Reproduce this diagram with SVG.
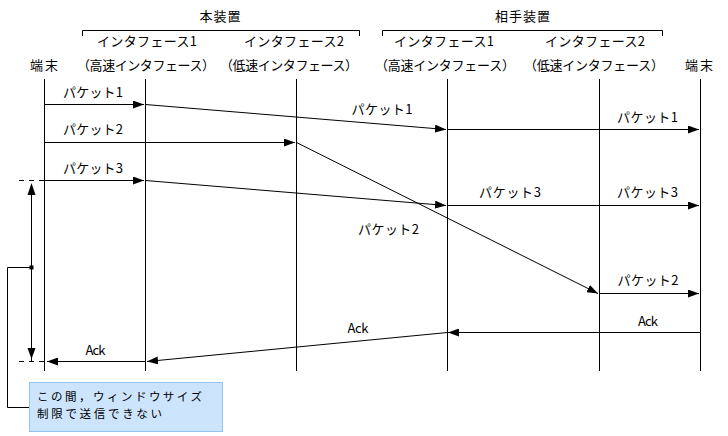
<svg xmlns="http://www.w3.org/2000/svg" width="728" height="436" viewBox="0 0 728 436">
<style>
text{font-family:"Noto Sans CJK JP","Noto Sans",sans-serif;font-size:13px;fill:#000}
.c{text-anchor:middle}
.n{font-size:11.5px}
.ll{stroke:#000;stroke-width:1;fill:none}
.ar{stroke:#000;stroke-width:1;fill:none;marker-end:url(#ah)}
.dash{stroke:#000;stroke-width:1;stroke-dasharray:5 5;fill:none}
</style>
<defs>
<marker id="ah" markerUnits="userSpaceOnUse" markerWidth="12" markerHeight="8" refX="11" refY="4" orient="auto">
<path d="M0,0 L11,4 L0,8 z" fill="#000"/>
</marker>
</defs>
<rect width="728" height="436" fill="#fff"/>

<g id="header-local">
<text x="220" y="21" class="c" textLength="41">本装置</text>
<path class="ll" d="M82.5,36 V30.5 H359.5 V36"/>
</g>
<g id="header-remote">
<text x="522.5" y="21" class="c" textLength="55">相手装置</text>
<path class="ll" d="M382.5,36 V30.5 H662.5 V36"/>
</g>

<g id="terminal-left">
<text x="44" y="70" class="c" textLength="28">端末</text>
<line class="ll" x1="44.5" y1="79" x2="44.5" y2="371"/>
</g>
<g id="local-if1">
<text x="147" y="46" class="c" textLength="100">インタフェース1</text>
<text x="146" y="70" class="c" textLength="138">（高速インタフェース）</text>
<line class="ll" x1="145.5" y1="79" x2="145.5" y2="371"/>
</g>
<g id="local-if2">
<text x="294" y="46" class="c" textLength="100">インタフェース2</text>
<text x="289" y="70" class="c" textLength="138">（低速インタフェース）</text>
<line class="ll" x1="296.5" y1="79" x2="296.5" y2="371"/>
</g>
<g id="remote-if1">
<text x="444" y="46" class="c" textLength="100">インタフェース1</text>
<text x="445" y="70" class="c" textLength="140">（高速インタフェース）</text>
<line class="ll" x1="447.5" y1="79" x2="447.5" y2="371"/>
</g>
<g id="remote-if2">
<text x="595" y="46" class="c" textLength="100">インタフェース2</text>
<text x="594" y="70" class="c" textLength="140">（低速インタフェース）</text>
<line class="ll" x1="599.5" y1="79" x2="599.5" y2="371"/>
</g>
<g id="terminal-right">
<text x="699" y="70" class="c" textLength="28">端末</text>
<line class="ll" x1="700.5" y1="79" x2="700.5" y2="371"/>
</g>

<g id="connectors">
<line class="ar" x1="44.5" y1="104.5" x2="144" y2="104.5"/>
<line class="ar" x1="145.5" y1="104.5" x2="446" y2="129.5"/>
<line class="ar" x1="447.5" y1="129.5" x2="699" y2="129.5"/>
<line class="ar" x1="44.5" y1="142.5" x2="295" y2="142.5"/>
<line class="ar" x1="296.5" y1="142.5" x2="598" y2="293.5"/>
<line class="ar" x1="599.5" y1="293.5" x2="699" y2="293.5"/>
<line class="ar" x1="44.5" y1="180.5" x2="144" y2="180.5"/>
<line class="ar" x1="145.5" y1="180.5" x2="446" y2="205.5"/>
<line class="ar" x1="447.5" y1="205.5" x2="699" y2="205.5"/>
<line class="ar" x1="700.5" y1="332.5" x2="448" y2="332.5"/>
<line class="ar" x1="447.5" y1="332.5" x2="147" y2="361.5"/>
<line class="ar" x1="145.5" y1="361.5" x2="47" y2="361.5"/>

<text x="93" y="97" class="c" textLength="60">パケット1</text>
<text x="93" y="134" class="c" textLength="60">パケット2</text>
<text x="93" y="173" class="c" textLength="60">パケット3</text>
<text x="382" y="114" class="c" textLength="61">パケット1</text>
<text x="647.5" y="122" class="c" textLength="61">パケット1</text>
<text x="510" y="197" class="c" textLength="62">パケット3</text>
<text x="647.5" y="197" class="c" textLength="61">パケット3</text>
<text x="388.5" y="234" class="c" textLength="61">パケット2</text>
<text x="648" y="285" class="c" textLength="61">パケット2</text>
<text x="648" y="326" class="c" textLength="20">Ack</text>
<text x="358" y="333" class="c" textLength="21">Ack</text>
<text x="95.5" y="355" class="c" textLength="20">Ack</text>
</g>

<g id="window-interval">
<line class="dash" x1="19" y1="180.5" x2="44" y2="180.5"/>
<line class="dash" x1="19" y1="361.5" x2="44" y2="361.5"/>
<line class="ll" x1="31.5" y1="190" x2="31.5" y2="362"/>
<polygon points="31.5,183 27.5,195 35.5,195" fill="#000"/>
<polygon points="31.5,359 27.5,348 35.5,348" fill="#000"/>
<rect x="29.5" y="265.5" width="4" height="4" fill="#000"/>
<polyline class="ll" points="31.5,267.5 7.5,267.5 7.5,407.5 29.5,407.5"/>
</g>

<g id="note">
<rect x="29.5" y="382.5" width="193" height="49" fill="#cde4fd" stroke="#94c3ef" stroke-width="1"/>
<text x="37" y="401" class="n" textLength="165">この間，ウィンドウサイズ</text>
<text x="37" y="418" class="n" textLength="125">制限で送信できない</text>
</g>
</svg>
